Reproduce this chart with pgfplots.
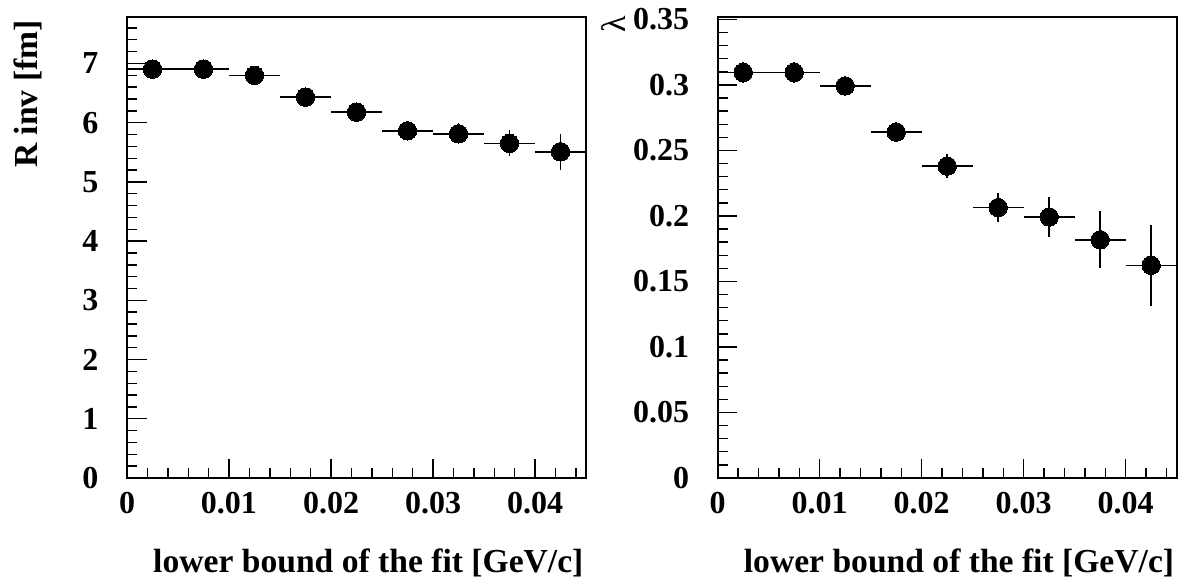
\documentclass[border=0pt]{standalone}
\usepackage{fontspec}
\setmainfont{Liberation Serif}
\usepackage{pgfplots}
\usepackage{pgfplotstable}
\pgfplotsset{compat=1.18}
\pgfplotstableread{
x y ex ey
0.0025 6.904 0.0025 0.10
0.0075 6.904 0.0025 0.10
0.0125 6.798 0.0025 0.10
0.0175 6.431 0.0025 0.10
0.0225 6.178 0.0025 0.11
0.0275 5.863 0.0025 0.12
0.0325 5.812 0.0025 0.18
0.0375 5.650 0.0025 0.22
0.0425 5.508 0.0025 0.30
}\rinv
\pgfplotstableread{
x y ex ey
0.0025 0.3095 0.0025 0.0077
0.0075 0.3095 0.0025 0.0077
0.0125 0.2992 0.0025 0.0079
0.0175 0.2640 0.0025 0.0079
0.0225 0.2380 0.0025 0.0092
0.0275 0.2064 0.0025 0.0110
0.0325 0.1992 0.0025 0.0156
0.0375 0.1818 0.0025 0.0216
0.0425 0.1623 0.0025 0.0309
}\lam
\pgfplotsset{
  rootstyle/.style={
    scale only axis, width=459pt, height=460.7pt,
    axis line style={line width=1.6pt},
    tick align=inside, xtick pos=bottom, ytick pos=left,
    major tick length=19.5pt, minor tick length=10pt,
    every tick/.style={line width=1.4pt, black},
    xmin=0, xmax=0.045, ymin=0,
    xtick={0,0.01,0.02,0.03,0.04},
    minor xtick={0.002,0.004,0.006,0.008,0.012,0.014,0.016,0.018,0.022,0.024,0.026,0.028,0.032,0.034,0.036,0.038,0.042,0.044},
    scaled ticks=false,
    /pgf/number format/.cd, fixed, precision=2, assume math mode=true, /pgfplots/.cd,
    ticklabel style={font=\fontsize{32}{35}\selectfont\bfseries, inner sep=0pt},
    xticklabel style={anchor=north, yshift=-13.7pt},
    yticklabel style={anchor=east, xshift=-28.4pt},
    label style={font=\fontsize{33.6}{37}\selectfont\bfseries, inner sep=0pt},
    xlabel={lower bound of the fit [GeV/c]},
    xlabel style={at={(axis description cs:0.9948,-0.2050)}, anchor=base east},
  },
  rootdata/.style={
    only marks, mark=*, mark size=9.2pt, black, mark options={fill=black, line width=0pt},
    error bars/.cd, x dir=both, x explicit, y dir=both, y explicit, error mark=none,
    error bar style={line width=1.6pt, black},
  }
}
\begin{document}
\begin{tikzpicture}[x=1pt,y=1pt]
\useasboundingbox (0,0) rectangle (1181,582);
\begin{axis}[rootstyle, at={(127pt,104pt)}, anchor=south west,
  ymax=7.78, ytick={0,1,2,3,4,5,6,7}, minor ytick={0,0.2,...,7.61},
  ylabel={R inv [fm]},
  ylabel style={at={(axis description cs:-0.196,0.994)}, anchor=base east}]
\addplot[rootdata] table[x=x, y=y, x error=ex, y error=ey] {\rinv};
\end{axis}
\begin{axis}[rootstyle, at={(717.7pt,104pt)}, anchor=south west,
  ymax=0.3516, ytick={0,0.05,0.1,0.15,0.2,0.25,0.3,0.35}, minor ytick={0,0.01,...,0.3505},
  ylabel={\normalfont\fontsize{34}{37}\selectfont λ},
  ylabel style={at={(axis description cs:-0.2015,1.003)}, anchor=base east}]
\addplot[rootdata] table[x=x, y=y, x error=ex, y error=ey] {\lam};
\end{axis}
\end{tikzpicture}
\end{document}
